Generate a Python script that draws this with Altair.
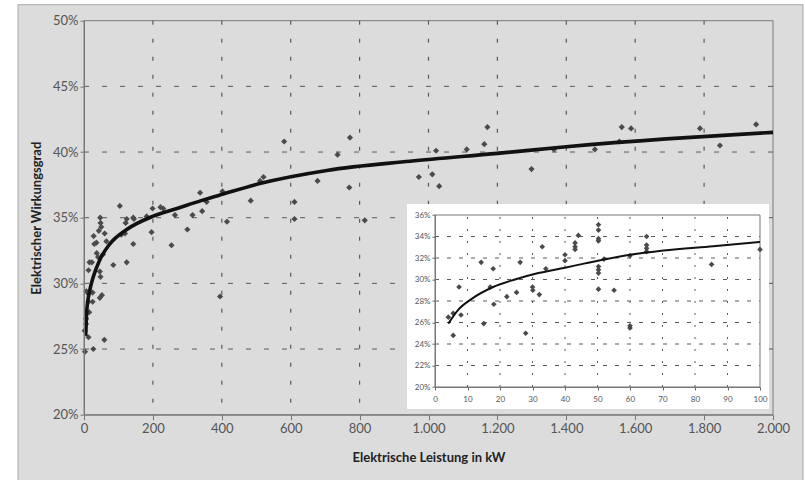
import altair as alt
import pandas as pd

# ---------------- data ----------------
main_kw = [3, 27, 13, 59, 2, 6, 6, 15, 13, 25, 13, 25, 7, 46, 52,
           13, 16, 23, 46, 48, 37, 41, 55, 36, 30, 65, 43, 60, 50, 47, 48, 28,
           85, 124, 108, 119, 143, 196, 121, 124, 145, 143, 104, 199, 182, 230, 222,
           254, 264, 300, 315, 337, 343, 356, 395, 402, 415, 484, 511, 521, 581,
           611, 611, 678, 736, 770, 772, 815,
           972, 1011, 1031, 1022, 1111, 1162, 1171, 1299, 1364, 1483, 1554, 1561,
           1588, 1788, 1846, 1951]
main_eff = [24.8, 25.0, 25.9, 25.7, 26.4, 26.9, 27.3, 27.8, 28.6, 28.6, 29.2, 29.3, 29.4, 28.9, 29.1,
            31.0, 31.6, 31.6, 30.9, 30.5, 32.3, 32.0, 32.2, 33.1, 33.0, 33.2, 34.0, 33.8, 34.3, 35.0, 34.6, 33.6,
            31.4, 31.6, 33.7, 33.8, 33.0, 33.9, 34.6, 34.9, 34.9, 35.0, 35.9, 35.7, 35.1, 35.7, 35.8,
            32.9, 35.2, 34.1, 35.2, 36.9, 35.5, 36.2, 29.0, 37.0, 34.7, 36.3, 37.8, 38.1, 40.8,
            36.2, 34.9, 37.8, 39.8, 37.3, 41.1, 34.8,
            38.1, 38.3, 37.4, 40.1, 40.2, 40.6, 41.9, 38.7, 40.2, 40.2, 40.8, 41.9,
            41.8, 41.8, 40.5, 42.1]

main_curve_kw = [5, 8, 17, 27, 46, 75, 124, 199, 270, 340, 404, 510, 705, 946, 1200, 1400, 1690, 2000]
main_curve_eff = [26.0, 27.9, 29.5, 30.5, 31.8, 33.0, 34.1, 35.1, 35.7, 36.3, 36.8, 37.6, 38.6, 39.3,
                  39.9, 40.4, 41.0, 41.5]

inset_kw = [4.1, 5.6, 5.6, 7.4, 8.0, 14.2, 15.0, 17.9, 17.0, 18.1, 22.1, 25.1, 26.2, 27.9, 30.0,
            30.1, 32.1, 33.0, 34.1, 40.0, 40.0, 43.1, 43.1, 43.1, 44.1, 50.3, 50.3, 50.3, 50.3,
            50.3, 50.3, 50.3, 50.3, 55.1, 52.0, 60.0, 60.0, 60.0, 65.1, 65.1, 65.1, 65.1, 85.1, 100.0]
inset_eff = [26.5, 26.85, 24.8, 29.3, 26.7, 31.6, 25.9, 31.0, 29.3, 27.7, 28.4, 28.8, 31.6, 25.0, 29.3,
             29.0, 28.6, 33.05, 31.0, 32.3, 31.75, 33.4, 33.05, 32.8, 34.1, 35.1, 34.6, 33.8, 33.6,
             31.2, 30.9, 30.6, 29.1, 29.0, 31.9, 32.2, 25.7, 25.5, 34.0, 33.2, 32.9, 32.6, 31.4, 32.8]

inset_curve_kw = [4.1, 7.2, 11.3, 17.9, 24.6, 31.8, 40.0, 46.2, 60.0, 70.3, 85.6, 100.0]
inset_curve_eff = [25.9, 27.2, 28.2, 29.3, 30.0, 30.6, 31.1, 31.5, 32.3, 32.7, 33.1, 33.5]

main_x_ticks = list(range(0, 2001, 200))
main_y_ticks = list(range(20, 51, 5))
inset_x_ticks = list(range(0, 101, 10))
inset_y_ticks = list(range(20, 37, 2))

# ---------------- styling ----------------
FONT = "Lato"
BG = "#dcdcdc"
GRID = "#5a5a5a"
PT = "#4a4a4a"
W, H = 689, 394

xs_main = alt.Scale(domain=[0, 2000], nice=False, zero=False, padding=0)
ys_main = alt.Scale(domain=[20, 50], nice=False, zero=False, padding=0)
xs_in = alt.Scale(domain=[0, 100], range=[351, 676], nice=False, zero=False, padding=0)
ys_in = alt.Scale(domain=[20, 36], range=[366.3, 194.3], nice=False, zero=False, padding=0)

xaxis_main = alt.Axis(values=main_x_ticks, grid=False, zindex=1, labelFlush=False,
                      labelExpr="replace(format(datum.value, ','), ',', '.')",
                      tickSize=5, tickColor="#777", domainColor="#777",
                      labelColor="#555", labelFont=FONT, labelFontSize=13, labelPadding=3,
                      title="Elektrische Leistung in kW", titleFont=FONT, titleFontSize=13,
                      titleFontWeight="bold", titleColor="#222", titleY=43, titleBaseline="middle")
yaxis_main = alt.Axis(values=main_y_ticks, grid=False, zindex=1, labelFlush=False,
                      labelExpr="datum.value + '%'",
                      tickSize=4, tickColor="#777", domainColor="#777",
                      labelColor="#555", labelFont=FONT, labelFontSize=13, labelPadding=2,
                      title="Elektrischer Wirkungsgrad", titleFont=FONT, titleFontSize=13,
                      titleFontWeight="bold", titleColor="#222", titleX=-48, titleBaseline="middle")
xaxis_in = alt.Axis(orient="bottom", offset=-27.7, values=inset_x_ticks, grid=False, zindex=1,
                    labelFlush=False,
                    tickSize=3, tickColor="#666", domainColor="#777",
                    labelColor="#555", labelFont=FONT, labelFontSize=8, labelPadding=5, title=None)
yaxis_in = alt.Axis(orient="left", offset=-351, values=inset_y_ticks, grid=False, zindex=1,
                    labelFlush=False,
                    labelExpr="datum.value + '%'",
                    tickSize=3, tickColor="#666", domainColor="#777",
                    labelColor="#555", labelFont=FONT, labelFontSize=8, labelPadding=2, title=None)

one = pd.DataFrame({"a": [0]})
df_main = pd.DataFrame({"kw": main_kw, "eff": main_eff})
df_mcurve = pd.DataFrame({"kw": main_curve_kw, "eff": main_curve_eff})
df_in = pd.DataFrame({"kw": inset_kw, "eff": inset_eff})
df_icurve = pd.DataFrame({"kw": inset_curve_kw, "eff": inset_curve_eff})
df_mhg = pd.DataFrame({"v": main_y_ticks[1:-1]})
df_mvg = pd.DataFrame({"v": main_x_ticks[1:-1]})
df_ihg = pd.DataFrame({"v": inset_y_ticks[1:-1]})
df_ivg = pd.DataFrame({"v": inset_x_ticks[1:-1]})


def MX(f):
    return alt.X(f, type="quantitative", scale=xs_main, axis=xaxis_main)


def MY(f):
    return alt.Y(f, type="quantitative", scale=ys_main, axis=yaxis_main)


def IX(f):
    return alt.X(f, type="quantitative", scale=xs_in, axis=xaxis_in)


def IY(f):
    return alt.Y(f, type="quantitative", scale=ys_in, axis=yaxis_in)


# ---------------- main panel ----------------
bg = alt.Chart(one).mark_rect(fill=BG, stroke="#a8a8a8", strokeWidth=1).encode(
    x=alt.value(-66), x2=alt.value(719), y=alt.value(-16), y2=alt.value(470))
frame = alt.Chart(one).mark_rect(filled=False, stroke="#7a7a7a", strokeWidth=1).encode(
    x=alt.value(0), x2=alt.value(W), y=alt.value(0), y2=alt.value(H))
m_hgrid = alt.Chart(df_mhg).mark_rule(color=GRID, strokeDash=[5, 13], strokeWidth=1).encode(y=MY("v"))
m_vgrid = alt.Chart(df_mvg).mark_rule(color=GRID, strokeDash=[4, 14], strokeWidth=1.2).encode(x=MX("v"))
m_pts = alt.Chart(df_main).mark_point(shape="diamond", filled=True, fill=PT, size=38, opacity=1).encode(
    x=MX("kw"), y=MY("eff"))
m_curve = alt.Chart(df_mcurve).mark_line(color="#111", strokeWidth=3.6, interpolate="monotone").encode(
    x=MX("kw"), y=MY("eff"))
main = alt.layer(bg, frame, m_hgrid, m_vgrid, m_pts, m_curve)

# ---------------- inset panel ----------------
box = alt.Chart(one).mark_rect(fill="white").encode(
    x=alt.value(323), x2=alt.value(685), y=alt.value(183.3), y2=alt.value(388.3))
i_frame = alt.Chart(one).mark_rect(filled=False, stroke="#777", strokeWidth=1).encode(
    x=alt.X(datum=inset_x_ticks[0], scale=xs_in, axis=xaxis_in),
    x2=alt.X2(datum=inset_x_ticks[-1]),
    y=alt.Y(datum=inset_y_ticks[0], scale=ys_in, axis=yaxis_in),
    y2=alt.Y2(datum=inset_y_ticks[-1]))
i_hgrid = alt.Chart(df_ihg).mark_rule(color=GRID, strokeDash=[4, 8], strokeWidth=1).encode(
    y=IY("v"), x=alt.X(datum=inset_x_ticks[0], scale=xs_in, axis=xaxis_in),
    x2=alt.X2(datum=inset_x_ticks[-1]))
i_vgrid = alt.Chart(df_ivg).mark_rule(color=GRID, strokeDash=[2, 10], strokeWidth=1).encode(
    x=IX("v"), y=alt.Y(datum=inset_y_ticks[0], scale=ys_in, axis=yaxis_in),
    y2=alt.Y2(datum=inset_y_ticks[-1]))
i_pts = alt.Chart(df_in).mark_point(shape="diamond", filled=True, fill=PT, size=32, opacity=1).encode(
    x=IX("kw"), y=IY("eff"))
i_curve = alt.Chart(df_icurve).mark_line(color="#111", strokeWidth=2, interpolate="monotone").encode(
    x=IX("kw"), y=IY("eff"))
inset = alt.layer(box, i_hgrid, i_vgrid, i_frame, i_pts, i_curve)

chart = alt.layer(main, inset).resolve_scale(x="independent", y="independent").properties(
    width=W, height=H,
    padding={"left": 84, "top": 20.7, "right": 32, "bottom": 65.3},
    autosize=alt.AutoSizeParams(type="none"),
    background="white",
).configure_view(stroke=None)

chart.save("out.html", embed_options={"renderer": "svg", "actions": False})
